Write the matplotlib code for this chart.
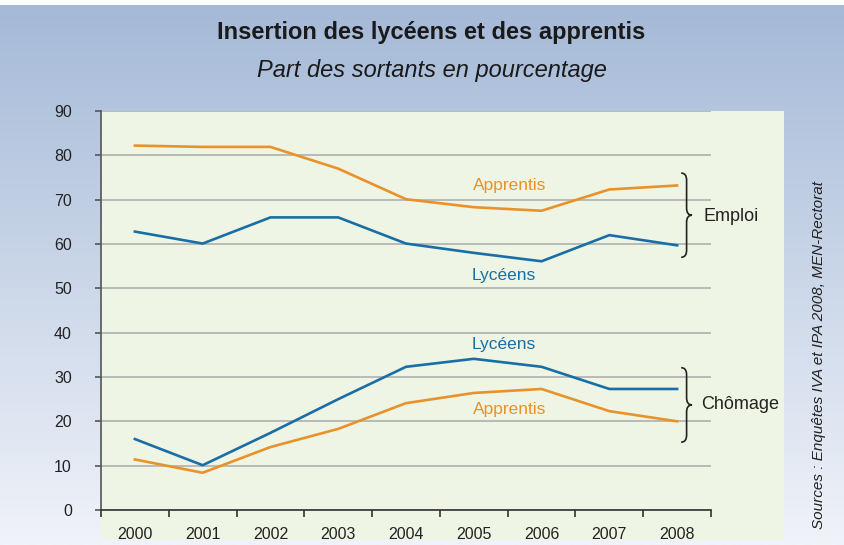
import numpy as np
import matplotlib
matplotlib.use("Agg")
import matplotlib.pyplot as plt
from matplotlib.path import Path
from matplotlib.patches import PathPatch, Rectangle

plt.rcParams['font.family'] = ['Liberation Sans', 'DejaVu Sans']

# Data
years = ['2000', '2001', '2002', '2003', '2004', '2005', '2006', '2007', '2008']
emploi_apprentis = [82.2, 81.9, 81.9, 77.0, 70.1, 68.3, 67.5, 72.3, 73.2]
emploi_lyceens = [62.8, 60.1, 66.0, 66.0, 60.1, 58.0, 56.1, 62.0, 59.7]
chomage_lyceens = [16.0, 10.1, 17.4, 25.0, 32.3, 34.1, 32.3, 27.3, 27.3]
chomage_apprentis = [11.4, 8.4, 14.2, 18.3, 24.1, 26.4, 27.3, 22.3, 20.0]
yticks = [0, 10, 20, 30, 40, 50, 60, 70, 80, 90]

blue = '#1a6ea6'
orange = '#e9912b'
green_bg = '#eff5e4'

fig = plt.figure(figsize=(8.45, 5.45), dpi=100)

# background gradient
bg = fig.add_axes([0, 0, 1, 1], zorder=-2)
bg.set_axis_off()
grad = np.linspace(0, 1, 256).reshape(-1, 1)
top = np.array([164, 185, 215]) / 255
bottom = np.array([240, 243, 249]) / 255
img = top + (bottom - top) * grad[:, :, None]
bg.imshow(img, aspect='auto', extent=[0, 1, 0, 1], origin='upper')
bg.set_xlim(0, 1)
bg.set_ylim(0, 1)
# white strip at the top
bg.add_patch(Rectangle((0, 1 - 5 / 545), 1, 5 / 545, color='white', lw=0))
# light green panel
bg.add_patch(Rectangle((101 / 845, 1 - 540 / 545), (784 - 101) / 845, (540 - 111) / 545,
                       color=green_bg, lw=0))

ax = fig.add_axes([101 / 845, 1 - 510 / 545, 610 / 845, 399 / 545])
ax.set_facecolor('none')
x = np.arange(len(years))

ax.plot(x, emploi_apprentis, color=orange, lw=1.9, zorder=3)
ax.plot(x, emploi_lyceens, color=blue, lw=1.9, zorder=3)
ax.plot(x, chomage_lyceens, color=blue, lw=1.9, zorder=3)
ax.plot(x, chomage_apprentis, color=orange, lw=1.9, zorder=3)

ax.set_xlim(-0.5, len(years) - 0.5)
ax.set_ylim(0, 90)
ax.set_yticks(yticks)
ax.set_yticklabels([str(v) for v in yticks], fontsize=11.5, color='#222222')
ax.set_xticks(x)
ax.set_xticklabels(years, fontsize=11.5, color='#222222')
ax.set_xticks(np.arange(len(years) + 1) - 0.5, minor=True)
ax.tick_params(axis='x', which='major', length=0, pad=12)
ax.tick_params(axis='x', which='minor', length=5, width=1.2, color='#333333', direction='out')
ax.tick_params(axis='y', length=4, width=1.2, color='#555555', pad=17)

ax.yaxis.grid(True, color='#b5b5b5', lw=1.3)
ax.set_axisbelow(True)
for s in ['top', 'right']:
    ax.spines[s].set_visible(False)
ax.spines['left'].set_color('#555555')
ax.spines['left'].set_linewidth(1.2)
ax.spines['bottom'].set_color('#333333')
ax.spines['bottom'].set_linewidth(1.2)

# series labels
ax.text(5.53, 73.1, 'Apprentis', color=orange, fontsize=12.5, ha='center', va='center')
ax.text(5.44, 52.8, 'Lycéens', color=blue, fontsize=12.5, ha='center', va='center')
ax.text(5.44, 37.4, 'Lycéens', color=blue, fontsize=12.5, ha='center', va='center')
ax.text(5.53, 22.7, 'Apprentis', color=orange, fontsize=12.5, ha='center', va='center')


def brace(ax, xl, y0, y1, w=0.16, r=1.6):
    xm = xl + w / 2
    xr = xl + w
    ym = (y0 + y1) / 2
    verts = [(xl, y1), (xm, y1), (xm, y1 - r),
             (xm, ym + r),
             (xm, ym), (xr, ym),
             (xm, ym), (xm, ym - r),
             (xm, y0 + r),
             (xm, y0), (xl, y0)]
    codes = [Path.MOVETO, Path.CURVE3, Path.CURVE3,
             Path.LINETO,
             Path.CURVE3, Path.CURVE3,
             Path.CURVE3, Path.CURVE3,
             Path.LINETO,
             Path.CURVE3, Path.CURVE3]
    ax.add_patch(PathPatch(Path(verts, codes), fill=False, lw=1.2,
                           edgecolor='#222222', clip_on=False, zorder=4))


brace(ax, 8.06, 57.0, 76.0)
brace(ax, 8.06, 15.3, 32.1)
ax.text(8.39, 66.2, 'Emploi', fontsize=13, ha='left', va='center', color='#222222')
ax.text(8.36, 23.7, 'Chômage', fontsize=13, ha='left', va='center', color='#222222')

fig.text(431 / 845, 1 - 33 / 545, 'Insertion des lycéens et des apprentis',
         fontsize=17, fontweight='bold', ha='center', va='center', color='#1a1a1a')
fig.text(432 / 845, 1 - 70 / 545, 'Part des sortants en pourcentage',
         fontsize=17, style='italic', ha='center', va='center', color='#1a1a1a')
fig.text(819 / 845, 1 - 355 / 545, 'Sources : Enquêtes IVA et IPA 2008, MEN-Rectorat',
         fontsize=11, style='italic', rotation=90, ha='center', va='center', color='#222222')

fig.savefig('out.png', dpi=100)
